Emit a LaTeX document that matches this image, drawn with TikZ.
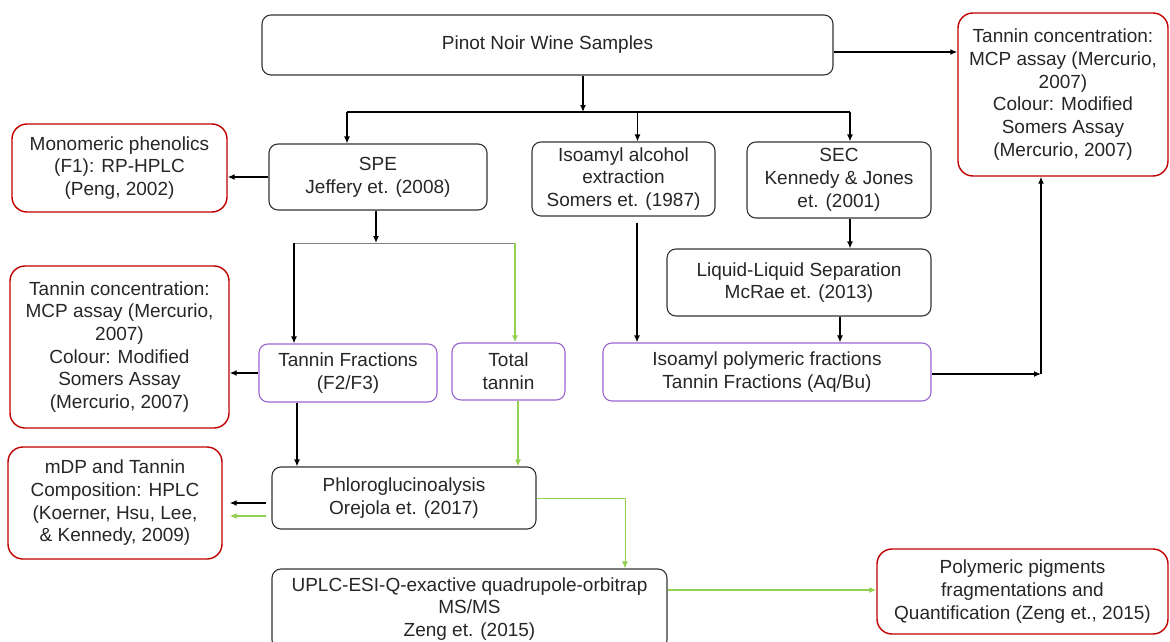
\documentclass[tikz,border=0pt]{standalone}
\usepackage{fontspec}
\setmainfont{Liberation Sans}
\usetikzlibrary{arrows.meta}
\definecolor{boxred}{HTML}{C00000}
\definecolor{boxpurple}{HTML}{9966CC}
\definecolor{flowgreen}{HTML}{92D050}
\tikzset{every node/.style={align=center, inner sep=2pt, text=black!85,
    font=\fontsize{19}{22.7}\selectfont},
  procbox/.style={draw=black!80, line width=1.1pt, rounded corners=9pt},
  resultbox/.style={draw=boxred, line width=1.4pt, rounded corners=15pt},
  fracbox/.style={draw=boxpurple, line width=1.1pt, rounded corners=9pt},
  flow/.style={-{Latex[length=7pt,width=6pt]}, line width=1.3pt, black},
  gflow/.style={flow, flowgreen}}

\begin{document}
\begin{tikzpicture}[x=1pt,y=-1pt]
  \useasboundingbox (0,0) rectangle (1170,642);

  \node[procbox,   minimum width=571pt, minimum height=60pt]  (wine)     at ( 547.5, 45.0) {Pinot Noir Wine Samples};
  \node[resultbox, minimum width=210pt, minimum height=163pt] (conctop)  at (1063.0, 94.5) {Tannin concentration:\\MCP assay (Mercurio,\\2007)\\Colour: Modified\\Somers Assay\\(Mercurio, 2007)};
  \node[resultbox, minimum width=215pt, minimum height=88pt]  (mono)     at ( 119.5,168.0) {Monomeric phenolics\\(F1): RP-HPLC\\(Peng, 2002)};
  \node[procbox,   minimum width=218pt, minimum height=66pt]  (spe)      at ( 378.0,177.0) {SPE\\Jeffery et. (2008)};
  \node[procbox,   minimum width=183pt, minimum height=74pt]  (isoalc)   at ( 623.5,179.0) {Isoamyl alcohol\\extraction\\Somers et. (1987)};
  \node[procbox,   minimum width=184pt, minimum height=76pt]  (sec)      at ( 839.0,180.0) {SEC\\Kennedy \& Jones\\et. (2001)};
  \node[procbox,   minimum width=264pt, minimum height=67pt]  (llsep)    at ( 799.0,282.5) {Liquid-Liquid Separation\\McRae et. (2013)};
  \node[fracbox,   minimum width=328pt, minimum height=58pt]  (isopoly)  at ( 767.0,372.0) {Isoamyl polymeric fractions\\Tannin Fractions (Aq/Bu)};
  \node[resultbox, minimum width=219pt, minimum height=162pt] (concleft) at ( 119.5,347.0) {Tannin concentration:\\MCP assay (Mercurio,\\2007)\\Colour: Modified\\Somers Assay\\(Mercurio, 2007)};
  \node[fracbox,   minimum width=178pt, minimum height=58pt]  (tanfrac)  at ( 348.0,373.0) {Tannin Fractions\\(F2/F3)};
  \node[fracbox,   minimum width=113pt, minimum height=57pt]  (totaltan) at ( 508.5,371.5) {Total\\tannin};
  \node[procbox,   minimum width=264pt, minimum height=62pt]  (phloro)   at ( 404.0,498.0) {Phloroglucinoalysis\\Orejola et. (2017)};
  \node[resultbox, minimum width=214pt, minimum height=112pt] (mdp)      at ( 115.0,503.0) {mDP and Tannin\\Composition: HPLC\\(Koerner, Hsu, Lee,\\\& Kennedy, 2009)};
  \node[procbox,   minimum width=395pt, minimum height=80pt]  (uplc)     at ( 469.5,609.0) {UPLC-ESI-Q-exactive quadrupole-orbitrap\\MS/MS\\Zeng et. (2015)};
  \node[resultbox, minimum width=291pt, minimum height=85pt]  (pigm)     at (1022.5,591.5) {Polymeric pigments\\fragmentations and\\Quantification (Zeng et., 2015)};

  \coordinate (split1) at (583,112);
  \coordinate (b1) at (347,112);
  \coordinate (b3) at (850,112);
  \coordinate (split2) at (376,243);
  \coordinate (b4) at (294,243);
  \coordinate (b5) at (515,243);
  \coordinate (c2) at (1041,374);

  % first split
  \draw[flow] (wine.south -| split1) -- (split1);
  \draw[line width=1.1pt] (b1) -- (b3);
  \draw[flow] (b1) -- (b1 |- spe.north);
  \draw[flow] ([xshift=14pt]isoalc.north |- b1) -- ([xshift=14pt]isoalc.north);
  \draw[flow] (b3) -- (b3 |- sec.north);
  \draw[flow] ([yshift=-7pt]wine.east) -- ([yshift=-7pt]wine.east -| conctop.west);

  % SPE branch
  \draw[flow] (spe.west) -- (spe.west -| mono.east);
  \draw[flow] (spe.south -| split2) -- (split2);
  \draw[gray, line width=0.9pt] (b4) -- (b5);
  \draw[flow] (b4) -- (b4 |- tanfrac.north);
  \draw[gflow] (b5) -- (b5 |- totaltan.north);
  \draw[flow] (tanfrac.west) -- (tanfrac.west -| concleft.east);
  \draw[flow] ([xshift=-51pt]tanfrac.south) -- ([xshift=-51pt]tanfrac.south |- phloro.north);
  \draw[gflow] ([xshift=9.5pt]totaltan.south) -- ([xshift=9.5pt]totaltan.south |- phloro.north);
  \draw[flow, shorten <=5pt, shorten >=7pt] ([yshift=-5pt]phloro.west) -- ([yshift=-5pt]phloro.west -| mdp.east);
  \draw[gflow, shorten <=5pt, shorten >=7pt] ([yshift=-18pt]phloro.west) -- ([yshift=-18pt]phloro.west -| mdp.east);
  \draw[gflow, line width=1pt] (phloro.east) -| ([xshift=155.5pt]uplc.north);
  \draw[gflow] ([yshift=19pt]uplc.east) -- ([yshift=19pt]uplc.east -| pigm.west);

  % isoamyl and SEC branches
  \draw[flow] ([xshift=13.5pt,yshift=-6pt]isoalc.south) -- ([xshift=13.5pt]isoalc.south |- isopoly.north);
  \draw[flow] ([xshift=11pt]sec.south) -- ([xshift=11pt]sec.south |- llsep.north);
  \draw[flow] ([xshift=41pt]llsep.south) -- ([xshift=41pt]llsep.south |- isopoly.north);
  \draw[flow] (isopoly.east |- c2) -- (c2);
  \draw[flow] (c2) -- (c2 |- conctop.south);
\end{tikzpicture}
\end{document}
